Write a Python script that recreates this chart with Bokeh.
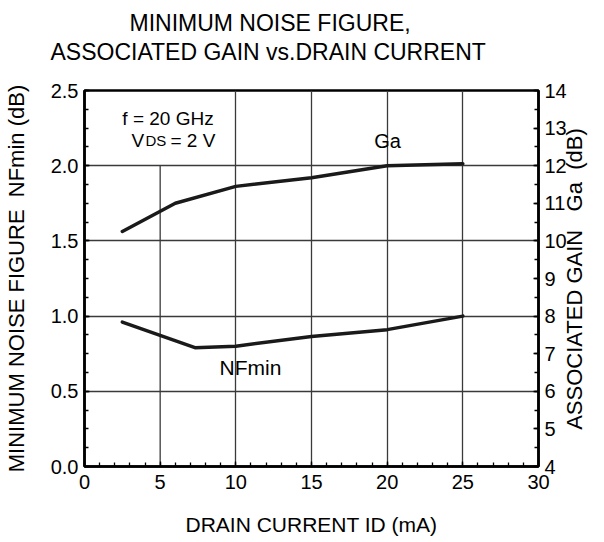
import math
from bokeh.plotting import figure
from bokeh.models import (Range1d, LinearAxis, SingleIntervalTicker, FixedTicker,
                          Label, PrintfTickFormatter, Title)
from bokeh.embed import file_html
from bokeh.resources import INLINE

# ---- data ----
drain_current_ga = [2.5, 6.0, 10.0, 15.0, 20.0, 25.0]
ga_db = [10.25, 11.0, 11.45, 11.68, 12.0, 12.05]
drain_current_nf = [2.5, 7.3, 10.0, 15.0, 20.0, 25.0]
nfmin_db = [0.96, 0.79, 0.80, 0.865, 0.91, 1.0]

x_lim = (0, 30)
nf_lim = (0, 2.5)
ga_lim = (4, 14)
x_grid_ticks = [10, 15, 20, 25]
y_grid_ticks = [0.5, 1.0, 1.5, 2.0]

FONT = "Liberation Sans"
NB = "\u00a0"

p = figure(width=604, height=542, output_backend="svg", toolbar_location=None,
           x_range=Range1d(*x_lim), y_range=Range1d(*nf_lim),
           min_border_left=84, min_border_right=66, min_border_top=90,
           min_border_bottom=76)
p.extra_y_ranges = {"ga": Range1d(*ga_lim)}
p.background_fill_color = "white"
p.border_fill_color = "white"
p.outline_line_color = "black"
p.outline_line_width = 2.5

xax = p.below[0]
yax = p.left[0]

# invisible spacer between the frame and the title lines
spacer = LinearAxis(ticker=FixedTicker(ticks=[]), axis_line_color=None,
                    major_tick_line_color=None, minor_tick_line_color=None,
                    major_tick_out=0, major_tick_in=0, minor_tick_out=0, minor_tick_in=0,
                    axis_label=NB, axis_label_text_font_size="20px",
                    axis_label_standoff=0, major_label_standoff=0)
p.add_layout(spacer, "above")

# titles (second line added first: it sits closest to the frame)
p.add_layout(Title(text="ASSOCIATED GAIN vs.DRAIN CURRENT", align="left", offset=-34,
                   text_font=FONT, text_font_size="23px", text_font_style="normal",
                   text_color="black", standoff=2), "above")
p.add_layout(Title(text="MINIMUM NOISE FIGURE,", align="left", offset=45,
                   text_font=FONT, text_font_size="23px", text_font_style="normal",
                   text_color="black", standoff=0), "above")

# grid
p.xgrid.ticker = FixedTicker(ticks=x_grid_ticks)
p.ygrid.ticker = FixedTicker(ticks=y_grid_ticks)
for g in (p.xgrid, p.ygrid):
    g.grid_line_color = "#3a3a3a"
    g.grid_line_width = 1.3
    g.grid_line_alpha = 1.0
# partial gridline at 5 mA (stops under the condition box)
p.segment(x0=[5], y0=[0], x1=[5], y1=[2.0], line_color="#3a3a3a", line_width=1.3)

# axes
xax.ticker = SingleIntervalTicker(interval=5, num_minor_ticks=5)
yax.ticker = SingleIntervalTicker(interval=0.5, num_minor_ticks=4)
yax.formatter = PrintfTickFormatter(format="%.1f")
right = LinearAxis(y_range_name="ga", ticker=SingleIntervalTicker(interval=1, num_minor_ticks=2))
p.add_layout(right, "right")

xax.axis_label = "DRAIN CURRENT ID (mA)"
yax.axis_label = "MINIMUM NOISE FIGURE" + NB + NB + "NFmin (dB)"
# right label reads bottom-to-top; anchored at the axis start, leading spaces lift it
right.axis_label = NB * 6 + "ASSOCIATED GAIN" + NB * 3 + "Ga" + NB * 2 + "(dB)"
right.axis_label_orientation = math.pi / 2
right.axis_label_align = "start"
xax.axis_label_standoff = 21
yax.axis_label_standoff = 19
right.axis_label_standoff = 5

for ax in (xax, yax, right):
    ax.axis_line_width = 2.5
    ax.axis_line_color = "black"
    ax.major_tick_in = 5
    ax.major_tick_out = 0
    ax.minor_tick_in = 4
    ax.minor_tick_out = 0
    ax.major_tick_line_color = "black"
    ax.minor_tick_line_color = "black"
    ax.major_tick_line_width = 1.3
    ax.minor_tick_line_width = 1.3
    ax.major_label_text_font = FONT
    ax.major_label_text_font_size = "20px"
    ax.major_label_text_color = "black"
    ax.major_label_standoff = 6
    ax.axis_label_text_font = FONT
    ax.axis_label_text_font_style = "normal"
    ax.axis_label_text_color = "black"
xax.major_label_standoff = 8
xax.axis_label_text_font_size = "21px"
yax.axis_label_text_font_size = "22px"
right.axis_label_text_font_size = "22px"

# curves
p.line(drain_current_ga, ga_db, y_range_name="ga", line_color="#1a1a1a",
       line_width=3.5, line_join="round", line_cap="round")
p.line(drain_current_nf, nfmin_db, line_color="#1a1a1a",
       line_width=3.5, line_join="round", line_cap="round")


def lab(x, y, text, size, align="left", baseline="alphabetic"):
    p.add_layout(Label(x=x, y=y, text=text, text_font=FONT, text_font_size=size,
                       text_color="black", text_align=align, text_baseline=baseline))


# conditions
lab(5.52, 2.314, "f = 20 GHz", "19px", align="center")
lab(3.11, 2.170, "V", "19px")
lab(4.03, 2.170, "DS", "15px")
lab(5.68, 2.170, "= 2 V", "19px")

# curve labels
lab(20.02, 2.161, "Ga", "20px", align="center", baseline="middle")
lab(10.97, 0.658, "NFmin", "21px", align="center", baseline="middle")

open("out.html", "w").write(file_html(p, INLINE))
